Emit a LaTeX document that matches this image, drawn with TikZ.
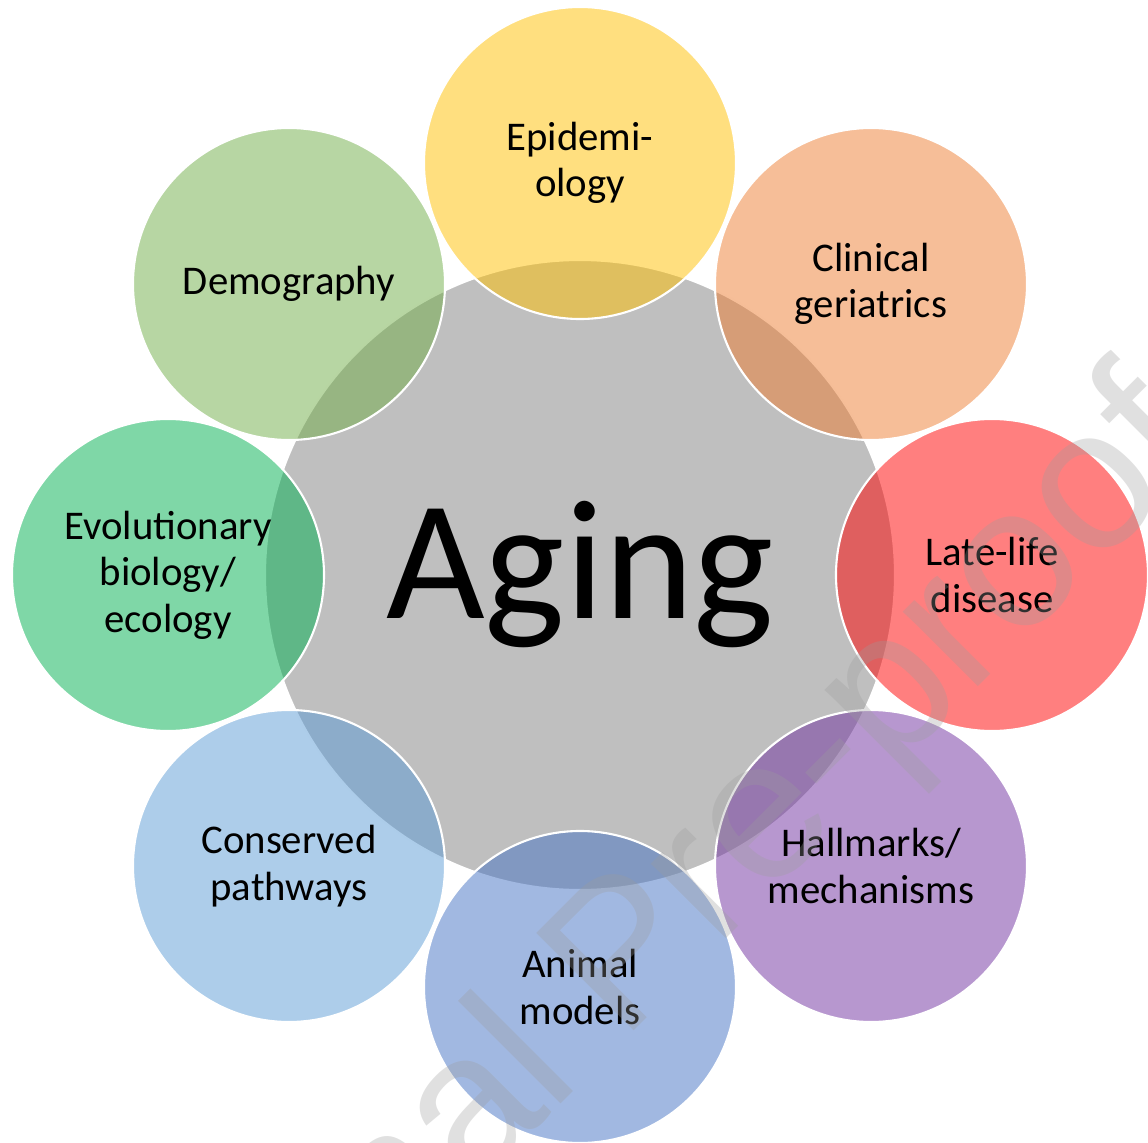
\documentclass[tikz,border=0pt]{standalone}
\usepackage{fontspec}
\setmainfont{Carlito}
\newfontfamily\wmfont{Liberation Sans}
\usetikzlibrary{positioning}

\definecolor{hubgray}{HTML}{BFBFBF}
\definecolor{epigold}{HTML}{FFC000}
\definecolor{cliorange}{HTML}{ED7D31}
\definecolor{disred}{HTML}{FF0000}
\definecolor{halpurple}{HTML}{7030A0}
\definecolor{anblue}{HTML}{4472C4}
\definecolor{conblue}{HTML}{5B9BD5}
\definecolor{evogreen}{HTML}{00B050}
\definecolor{demgreen}{HTML}{70AD47}

\begin{document}
\begin{tikzpicture}[
    hub/.style={circle, fill=hubgray, draw=white, line width=0.6pt, minimum size=6.3cm, inner sep=0pt, font=\fontsize{48.5}{58}\selectfont},
    topic/.style={circle, draw=white, line width=0.6pt, fill opacity=0.5, text opacity=1, minimum size=3.12cm, inner sep=0pt, align=center, font=\fontsize{11.6}{13.2}\selectfont}]
    \useasboundingbox (0,0) rectangle (11.48,-11.43);

    \node[hub] (aging) at (5.80,-5.75) {Aging};

    \node[topic, fill=epigold] (epidem) at (5.80,-1.63) {Epidemi-\\ology};
    \node[topic, fill=cliorange] (clinical) at (8.71,-2.84) {Clinical\\geriatrics};
    \node[topic, fill=disred] (latelife) at (9.92,-5.75) {Late-life\\disease};
    \node[topic, fill=halpurple] (hallmarks) at (8.71,-8.66) {Hallmarks/\\mechanisms};
    \node[topic, fill=anblue] (animal) at (5.80,-9.87) {Animal\\models};
    \node[topic, fill=conblue] (conserved) at (2.89,-8.66) {Conserved\\pathways};
    \node[topic, fill=evogreen] (evol) at (1.68,-5.75) {Evolutionary\\biology/\\ecology};
    \node[topic, fill=demgreen] (demog) at (2.89,-2.84) {Demography};

    % watermark
    \node[font=\wmfont\fontsize{57}{60}\selectfont, text=black!39, text opacity=0.31, rotate=45, anchor=base] (watermark) at (6.66,-9.99) {Journal Pre-proof};
\end{tikzpicture}
\end{document}
